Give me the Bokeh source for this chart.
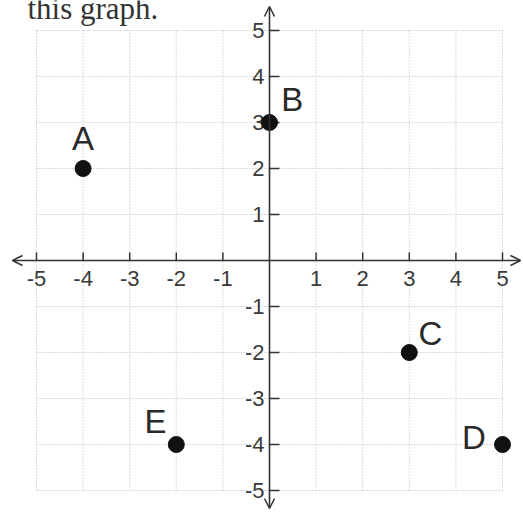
from bokeh.plotting import figure
from bokeh.models import ColumnDataSource, Range1d, Arrow, OpenHead
from bokeh.core.properties import value
from bokeh.embed import file_html
from bokeh.resources import INLINE

# ---- data ----
names = ["A", "B", "C", "D", "E"]
px = [-4, 0, 3, 5, -2]
py = [2, 3, -2, -4, -4]
label_dx = [0.0, 0.25, 0.2, -0.36, -0.21]
label_dy = [0.66, 0.51, 0.41, 0.15, 0.51]
label_align = ["center", "left", "left", "right", "right"]

x_ticks = [-5, -4, -3, -2, -1, 1, 2, 3, 4, 5]
x_tick_labels = ["-5", "-4", "-3", "-2", "-1", "1", "2", "3", "4", "5"]
y_ticks = [5, 4, 3, 2, 1, -1, -2, -3, -4, -5]
y_tick_labels = ["5", "4", "3", "2", "1", "-1", "-2", "-3", "-4", "-5"]
grid_vals = [-5, -4, -3, -2, -1, 0, 1, 2, 3, 4, 5]

W, H = 523, 512
XS, YS = 46.6, 46.0  # px per unit
x0 = -5 - 36 / XS
y1 = 5 + 30 / YS
p = figure(width=W, height=H, output_backend="svg", toolbar_location=None,
           x_range=Range1d(x0, x0 + W / XS), y_range=Range1d(y1 - H / YS, y1),
           min_border=0, outline_line_color=None)
p.axis.visible = False
p.grid.visible = False
p.background_fill_color = "white"

gmin, gmax = min(grid_vals), max(grid_vals)
# grid
p.segment(x0=grid_vals, y0=[gmin] * len(grid_vals), x1=grid_vals, y1=[gmax] * len(grid_vals),
          line_color="#b8b8b8", line_width=1, line_dash="1 2")
p.segment(x0=[gmin] * len(grid_vals), y0=grid_vals, x1=[gmax] * len(grid_vals), y1=grid_vals,
          line_color="#b8b8b8", line_width=1, line_dash="1 2")

# axes with arrows
ax_col = "#333333"
p.add_layout(Arrow(start=OpenHead(size=10, line_color=ax_col, line_width=1.5),
                   end=OpenHead(size=10, line_color=ax_col, line_width=1.5),
                   x_start=x0 + 12 / XS, y_start=0, x_end=x0 + 520 / XS, y_end=0,
                   line_color=ax_col, line_width=1.6))
p.add_layout(Arrow(start=OpenHead(size=10, line_color=ax_col, line_width=1.5),
                   end=OpenHead(size=10, line_color=ax_col, line_width=1.5),
                   x_start=0, y_start=y1 - 6 / YS, x_end=0, y_end=y1 - 508 / YS,
                   line_color=ax_col, line_width=1.6))

# tick marks
p.segment(x0=x_ticks, y0=[0] * len(x_ticks), x1=x_ticks, y1=[8 / YS] * len(x_ticks),
          line_color=ax_col, line_width=1.5)
p.segment(x0=[0] * len(y_ticks), y0=y_ticks, x1=[10 / XS] * len(y_ticks), y1=y_ticks,
          line_color=ax_col, line_width=1.5)

# tick labels
p.text(x=x_ticks, y=[-0.23] * len(x_ticks), text=x_tick_labels, text_align="center",
       text_baseline="top", text_font=value("Liberation Sans"), text_font_size="22px",
       text_color="#3a3a3a")
p.text(x=[-5 / XS] * len(y_ticks), y=y_ticks, text=y_tick_labels, text_align="right",
       text_baseline="middle", text_font=value("Liberation Sans"), text_font_size="22px",
       text_color="#3a3a3a")

# points
src = ColumnDataSource(dict(
    x=px, y=py, name=names,
    lx=[a + b for a, b in zip(px, label_dx)],
    ly=[a + b for a, b in zip(py, label_dy)],
    align=label_align))
p.scatter("x", "y", source=src, size=16, fill_color="#111111", line_color="#111111")
p.text("lx", "ly", text="name", source=src, text_align="align", text_baseline="alphabetic",
       text_font=value("Liberation Sans"), text_font_size="33px", text_color="#2a2a2a")

# cut-off header text
p.text(x=[x0 + 27 / XS], y=[y1 - 7.5 / YS], text=["this graph."], text_align="left",
       text_baseline="alphabetic", text_font=value("Liberation Serif"),
       text_font_size="31px", text_color="#333333")

open("out.html", "w").write(file_html(p, INLINE))
